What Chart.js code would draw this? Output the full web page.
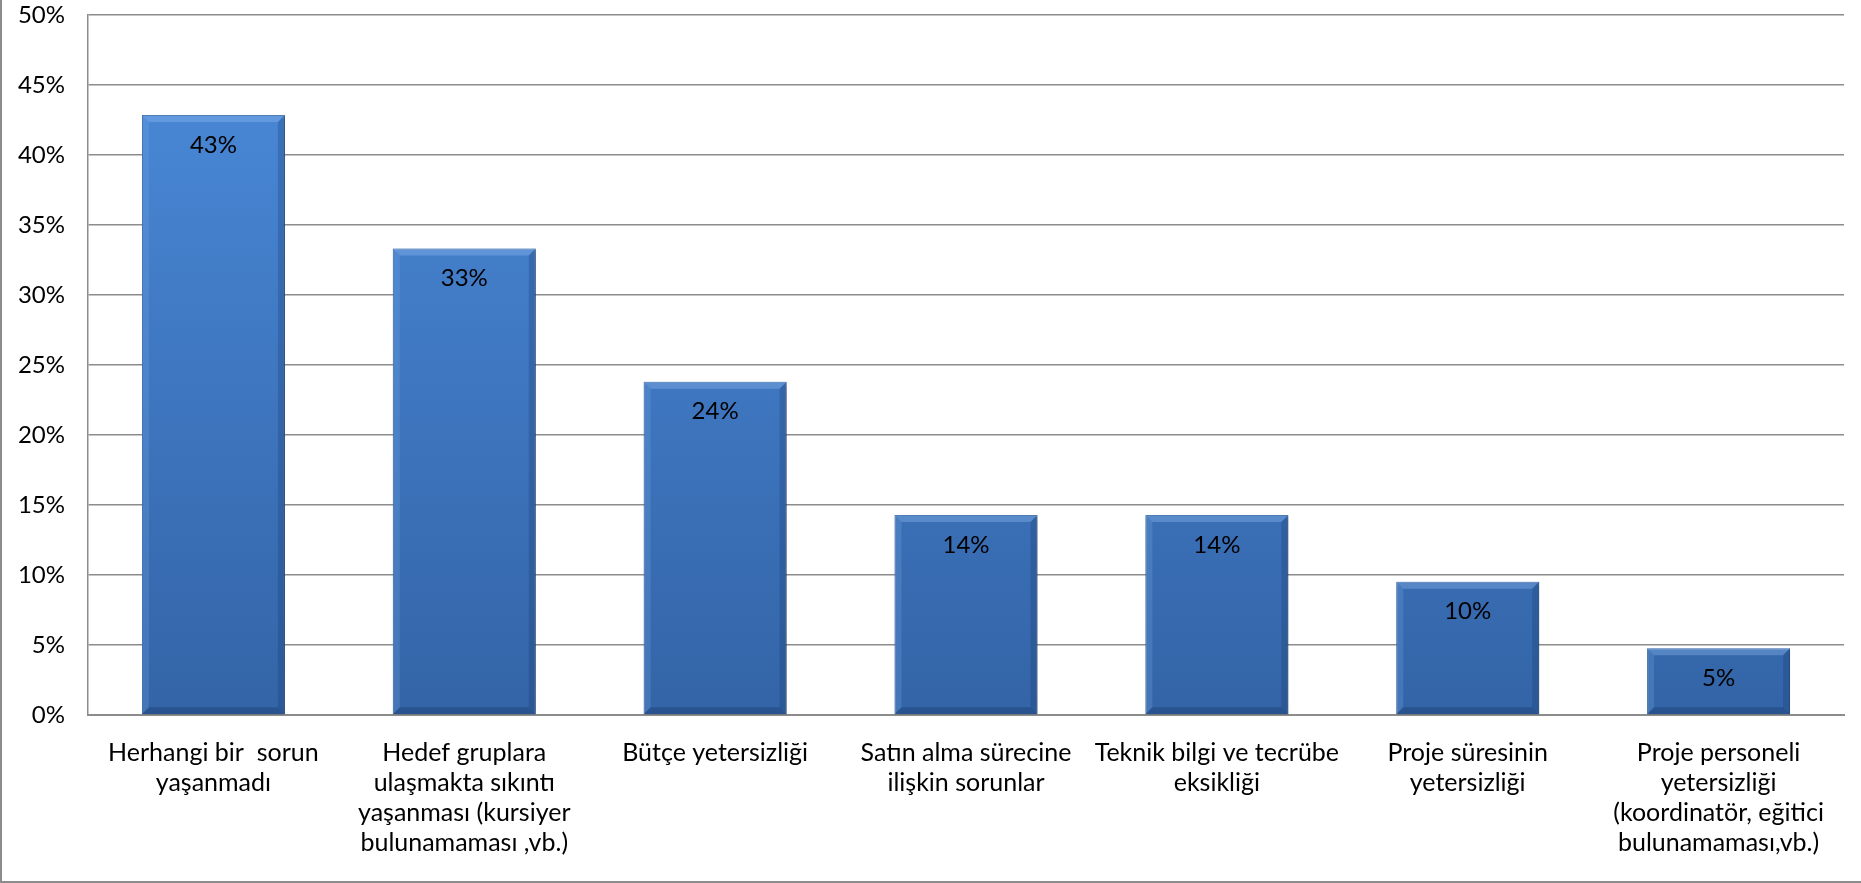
<!DOCTYPE html>
<html>
<head>
<meta charset="utf-8">
<script src="https://cdn.jsdelivr.net/npm/chart.js@4.4.1/dist/chart.umd.min.js"></script>
<style>
  html, body { margin: 0; padding: 0; background: #fff; }
  #wrap {
    position: relative;
    width: 1861px; height: 883px;
    box-sizing: border-box;
    border-left: 2px solid #8c8c8c;
    border-bottom: 2px solid #8c8c8c;
  }
</style>
</head>
<body>
<div id="wrap"><canvas id="problemChart" width="1859" height="881"></canvas></div>
<script>
// categories and values (share of projects, %)
const categories = [
  ["Herhangi bir  sorun", "yaşanmadı"],
  ["Hedef gruplara", "ulaşmakta sıkıntı", "yaşanması (kursiyer", "bulunamaması ,vb.)"],
  "Bütçe yetersizliği",
  ["Satın alma sürecine", "ilişkin sorunlar"],
  ["Teknik bilgi ve tecrübe", "eksikliği"],
  ["Proje süresinin", "yetersizliği"],
  ["Proje personeli", "yetersizliği", "(koordinatör, eğitici", "bulunamaması,vb.)"]
];
const values = [42.86, 33.33, 23.81, 14.29, 14.29, 9.52, 4.76];
const valueLabels = ["43%", "33%", "24%", "14%", "14%", "10%", "5%"];

const FONT = "Lato, 'Open Sans', sans-serif";

// bar fill: light blue at top, darker at the bottom
function barFill(context) {
  const chart = context.chart;
  const area = chart.chartArea;
  if (!area) return "#3f78c4";
  const g = chart.ctx.createLinearGradient(0, area.top, 0, area.bottom);
  g.addColorStop(0, "#4b8bdb");
  g.addColorStop(1, "#3364a7");
  return g;
}

// bevel edges + value labels inside the bars
const bevelAndLabels = {
  id: "bevelAndLabels",
  beforeDatasetsDraw(chart) {
    const ctx = chart.ctx;
    ctx.save();
    ctx.shadowColor = "rgba(0,0,0,0.35)";
    ctx.shadowBlur = 4;
    ctx.shadowOffsetX = 1;
    ctx.shadowOffsetY = 2;
  },
  afterDatasetsDraw(chart) {
    const ctx = chart.ctx;
    ctx.restore();
    const meta = chart.getDatasetMeta(0);
    const b = 7;
    meta.data.forEach(function (bar, i) {
      const left = bar.x - bar.width / 2;
      const right = bar.x + bar.width / 2;
      const top = bar.y;
      const bottom = bar.base;
      ctx.save();
      // top bevel
      ctx.fillStyle = "rgba(150,190,240,0.35)";
      ctx.beginPath();
      ctx.moveTo(left, top); ctx.lineTo(right, top);
      ctx.lineTo(right - b, top + b); ctx.lineTo(left + b, top + b);
      ctx.closePath(); ctx.fill();
      // left bevel
      ctx.fillStyle = "rgba(120,170,230,0.25)";
      ctx.beginPath();
      ctx.moveTo(left, top); ctx.lineTo(left + b, top + b);
      ctx.lineTo(left + b, bottom - b); ctx.lineTo(left, bottom);
      ctx.closePath(); ctx.fill();
      // right bevel
      ctx.fillStyle = "rgba(20,50,100,0.25)";
      ctx.beginPath();
      ctx.moveTo(right, top); ctx.lineTo(right - b, top + b);
      ctx.lineTo(right - b, bottom - b); ctx.lineTo(right, bottom);
      ctx.closePath(); ctx.fill();
      // bottom bevel
      ctx.fillStyle = "rgba(20,45,90,0.30)";
      ctx.beginPath();
      ctx.moveTo(left, bottom); ctx.lineTo(right, bottom);
      ctx.lineTo(right - b, bottom - b); ctx.lineTo(left + b, bottom - b);
      ctx.closePath(); ctx.fill();

      ctx.fillStyle = "#000";
      ctx.font = "24px " + FONT;
      ctx.textAlign = "center";
      ctx.textBaseline = "middle";
      ctx.fillText(valueLabels[i], bar.x, top + 30);
      ctx.restore();
    });
  }
};

const ctx = document.getElementById("problemChart").getContext("2d");

const problemChart = new Chart(ctx, {
  type: "bar",
  data: {
    labels: categories,
    datasets: [{
      data: values,
      backgroundColor: barFill,
      borderColor: "#2f5f9e",
      borderWidth: 1,
      barPercentage: 0.57,
      categoryPercentage: 1
    }]
  },
  options: {
    responsive: false,
    animation: false,
    layout: { padding: { top: 15, right: 17, left: 0, bottom: 0 } },
    plugins: {
      legend: { display: false },
      tooltip: { enabled: false }
    },
    scales: {
      y: {
        min: 0,
        max: 50,
        ticks: {
          stepSize: 5,
          padding: 23,
          color: "#000",
          font: { family: FONT, size: 24 },
          callback: function (v) { return v + "%"; }
        },
        grid: { color: "#8c8c8c", lineWidth: 1.5, drawTicks: false },
        border: { display: true, color: "#8c8c8c", width: 1.5 },
        afterFit: function (scale) {
          scale.width = 86;
          scale.paddingTop = 12;
          scale.paddingBottom = 12;
        }
      },
      x: {
        ticks: {
          padding: 23,
          color: "#000",
          maxRotation: 0,
          autoSkip: false,
          font: { family: FONT, size: 25, lineHeight: 1.2 }
        },
        grid: { display: false, drawTicks: false },
        border: { display: true, color: "#8c8c8c", width: 2 },
        afterFit: function (scale) { scale.height = 166; }
      }
    }
  },
  plugins: [bevelAndLabels]
});
</script>
</body>
</html>
